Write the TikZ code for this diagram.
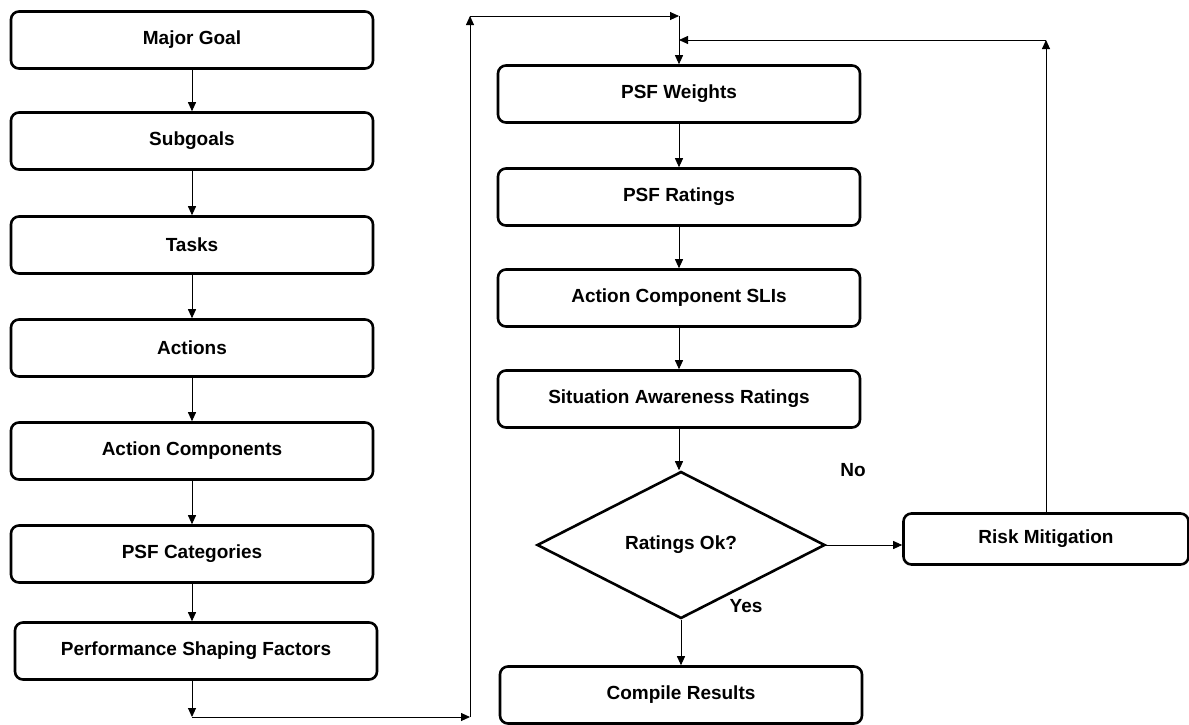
\documentclass[tikz,border=0pt]{standalone}
\usepackage{fontspec}
\setmainfont{Liberation Sans}
\usetikzlibrary{shapes.geometric, arrows.meta, positioning, calc}

\begin{document}
\begin{tikzpicture}[
        x=1pt, y=-1pt,
        stepBox/.style={rectangle, draw=black, line width=2.6pt, rounded corners=8pt, minimum width=362pt, minimum height=57pt, align=center, font=\bfseries\fontsize{19}{22}\selectfont},
        riskBox/.style={stepBox, minimum width=285pt, minimum height=51pt},
        checkNode/.style={diamond, draw=black, line width=2.6pt, inner sep=0pt, aspect=1.96, minimum width=288pt, minimum height=147pt, align=center, font=\bfseries\fontsize{19}{22}\selectfont},
        flowArrow/.style={-{Triangle[length=9pt, width=8pt]}, line width=0.9pt},
        answer/.style={font=\bfseries\fontsize{19}{22}\selectfont}
    ]
        \useasboundingbox (0,0) rectangle (1189,724);

        % left column
        \node[stepBox] (goal) at (192,40) {Major Goal};
        \node[stepBox] (sub) at (192,141) {Subgoals};
        \node[stepBox] (tasks) at (192,245) {Tasks};
        \node[stepBox] (actions) at (192,348) {Actions};
        \node[stepBox] (comps) at (192,451) {Action Components};
        \node[stepBox] (cats) at (192,554) {PSF Categories};
        \node[stepBox] (psf) at (196,651) {Performance Shaping Factors};

        % right column
        \node[stepBox] (weights) at (679,94) {PSF Weights};
        \node[stepBox] (ratings) at (679,197) {PSF Ratings};
        \node[stepBox] (slis) at (679,298) {Action Component SLIs};
        \node[stepBox] (aware) at (679,399) {Situation Awareness Ratings};
        \node[checkNode] (check) at (681,545) {Ratings Ok?};
        \node[stepBox] (compile) at (681,695) {Compile Results};
        \node[riskBox] (risk) at (1046,539) {Risk Mitigation};

        \node[answer] (no) at (853,470) {No};
        \node[answer] (yes) at (746,606) {Yes};

        % route points
        \coordinate (bl) at (192,717);
        \coordinate (br) at (470,717);
        \coordinate (tl) at (470,16);
        \coordinate (tr) at (679,16);
        \coordinate (jn) at (679,40);
        \coordinate (rt) at (1046,40);

        \draw[flowArrow] (goal) -- (sub);
        \draw[flowArrow] (sub) -- (tasks);
        \draw[flowArrow] (tasks) -- (actions);
        \draw[flowArrow] (actions) -- (comps);
        \draw[flowArrow] (comps) -- (cats);
        \draw[flowArrow] (cats) -- (cats |- psf.north);
        \draw[flowArrow] (psf.south -| bl) -- (bl);
        \draw[flowArrow] (bl) -- (br);
        \draw[flowArrow] (br) -- (tl);
        \draw[flowArrow] (tl) -- (tr);
        \draw[flowArrow] (tr) -- (weights);
        \draw[flowArrow] (weights) -- (ratings);
        \draw[flowArrow] (ratings) -- (slis);
        \draw[flowArrow] (slis) -- (aware);
        \draw[flowArrow] (aware) -- (aware |- check.north);
        \draw[flowArrow] (check.south) -- (check.south |- compile.north);
        \draw[flowArrow] (check.east) -- (check.east -| risk.west);
        \draw[flowArrow] (risk) -- (rt);
        \draw[flowArrow] (rt) -- (jn);
    \end{tikzpicture}
\end{document}
